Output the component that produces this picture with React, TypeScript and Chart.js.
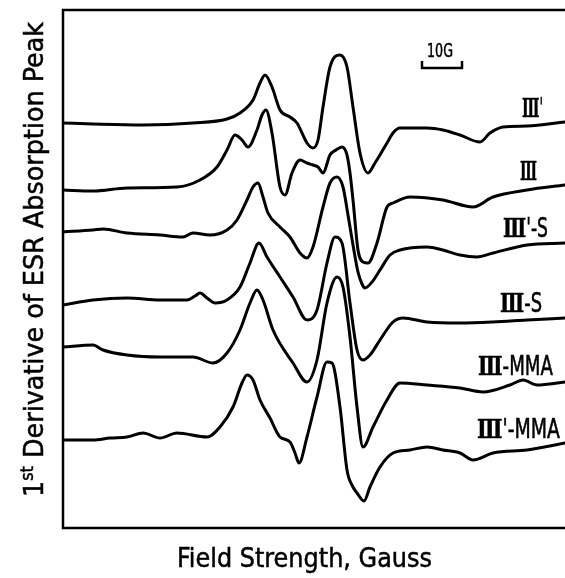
import React, { useEffect, useRef } from 'react';
import { Chart, registerables } from 'chart.js';

Chart.register(...registerables);

// Field strength in Gauss (relative), derivative signal in arbitrary units (stacked offsets included)
const seriesNames = ["Ⅲ'", 'Ⅲ', "Ⅲ'-S", 'Ⅲ-S', 'Ⅲ-MMA', "Ⅲ'-MMA"];

const fieldIIIp = [0, 7.5, 20, 32.5, 41, 44.25, 47.5, 49.25, 50.5, 52.25, 54.25, 56.75, 58.5, 61, 62.5, 63.75, 65, 66.75, 69.25, 71, 72.5, 74.25, 76.25, 78, 81, 82.5, 84.25, 91, 95, 99.25, 104.25, 106.75, 110, 116, 125.5];
const signalIIIp = [405, 404, 403, 405, 409, 415, 428, 445, 453, 441, 418, 411, 405, 385, 380, 388, 421, 461, 473, 461, 421, 375, 355, 365, 385, 395, 400, 400, 398, 393, 386, 395, 401, 402, 406];

const fieldIII = [0, 7.5, 16, 28.5, 34.25, 38.5, 41, 43, 44.75, 46.25, 48.5, 49.75, 50.75, 52.25, 54.25, 55.5, 57.25, 59.25, 61, 62.5, 63.75, 65, 66.75, 68.25, 69.75, 71, 71.75, 72.5, 73.75, 75, 76.25, 78.5, 81, 82.5, 86.75, 95, 102.5, 107.5, 116, 125.5];
const signalIII = [338, 337, 340, 341, 348, 361, 378, 393, 388, 381, 398, 413, 418, 395, 341, 333, 355, 368, 365, 363, 361, 355, 373, 378, 381, 373, 355, 328, 278, 266, 265, 285, 321, 325, 331, 328, 321, 331, 338, 343];

const fieldIIIpS = [0, 7.5, 10, 16, 24.25, 30, 32.5, 36.75, 41, 43.5, 46, 47.5, 48.75, 50, 51.25, 54.25, 56.75, 59.25, 61, 62.5, 65, 66.75, 68.5, 70, 71.25, 72.5, 73.75, 74.75, 75.5, 77.25, 79.25, 81.75, 84.25, 91, 95, 99.25, 103.5, 107.5, 116, 125.5];
const signalIIIpS = [296, 298, 299, 295, 293, 291, 295, 293, 298, 308, 328, 341, 345, 331, 315, 301, 291, 275, 270, 281, 321, 345, 351, 341, 313, 283, 256, 244, 240, 246, 258, 273, 278, 281, 278, 273, 271, 275, 283, 285];

const fieldIIIS = [0, 7.5, 16, 24.25, 31, 33, 34.25, 36, 38, 41, 44.25, 46.75, 49, 51, 54.25, 57.5, 61, 63.5, 66, 68, 69.75, 71.75, 73.5, 75, 76.75, 79.25, 82.5, 85, 91, 99.25, 107.5, 116, 125.5];
const signalIIIS = [223, 228, 230, 228, 228, 232, 235, 230, 225, 228, 241, 265, 285, 271, 251, 231, 208, 218, 265, 291, 285, 225, 178, 168, 173, 188, 206, 210, 206, 205, 206, 208, 210];

const fieldIIIMMA = [0, 7.5, 10, 16, 24.25, 32.5, 37.5, 41, 44.25, 46.75, 48.5, 50, 52.5, 57.5, 61, 63.5, 66, 68.5, 70, 71.75, 73.5, 75, 77.5, 81, 84.25, 91, 99.25, 105, 111.75, 115, 118.5, 125.5];
const signalIIIMMA = [181, 183, 178, 173, 171, 171, 165, 175, 198, 225, 238, 228, 198, 165, 146, 168, 225, 251, 241, 191, 121, 81, 101, 128, 145, 143, 140, 136, 143, 148, 143, 146];

const fieldIIIpMMA = [0, 7.5, 11.75, 16, 20, 24.25, 28.5, 36, 39.25, 42.5, 44.75, 46, 47.5, 49.25, 51.75, 54.25, 56.75, 58, 59, 61, 63.5, 66, 67.25, 69.25, 71, 72.5, 73.5, 75.25, 76.75, 79.25, 82.5, 86.75, 91, 95, 99.25, 102.5, 107.5, 116, 125.5];
const signalIIIpMMA = [88, 88, 90, 91, 95, 90, 95, 91, 101, 121, 145, 153, 148, 128, 110, 91, 86, 75, 65, 91, 131, 166, 165, 121, 58, 41, 35, 27, 41, 61, 75, 78, 81, 78, 75, 68, 75, 78, 85];

// 10 G scale bar
const scaleBarField = [89.75, 89.75, 99.75, 99.75];
const scaleBarSignal = [467, 460, 460, 467];
const scaleBarText = '10G';

const fieldMin = 0;
const fieldMax = 125.5;
const signalMin = 0;
const signalMax = 518;

const xTitle = 'Field Strength, Gauss';
const yTitleParts = ['1', 'st', ' Derivative of ESR Absorption Peak'];

// label boxes: [left G, right G, baseline signal]
const labelBoxes: number[][] = [
  [114.75, 120, 411],
  [114.25, 118.5, 348],
  [110, 121.25, 291],
  [109.25, 119.75, 216],
  [103.75, 122.5, 153],
  [103.5, 124.25, 90],
];
const scaleTextBox = [91, 97.5, 471];

const allFields = [fieldIIIp, fieldIII, fieldIIIpS, fieldIIIS, fieldIIIMMA, fieldIIIpMMA];
const allSignals = [signalIIIp, signalIII, signalIIIpS, signalIIIS, signalIIIMMA, signalIIIpMMA];

type Run = { text: string; font: string; dy?: number };

function drawRuns(ctx: CanvasRenderingContext2D, runs: Run[], x: number, y: number, width: number, angle = 0) {
  ctx.save();
  let total = 0;
  const ws = runs.map((r) => {
    ctx.font = r.font;
    const w = ctx.measureText(r.text).width;
    total += w;
    return w;
  });
  ctx.translate(x, y);
  if (angle) ctx.rotate(angle);
  ctx.scale(width / total, 1);
  ctx.fillStyle = '#000';
  ctx.strokeStyle = '#000';
  ctx.lineWidth = 0.5;
  ctx.textBaseline = 'alphabetic';
  let cx = 0;
  runs.forEach((r, i) => {
    ctx.font = r.font;
    ctx.fillText(r.text, cx, r.dy || 0);
    ctx.strokeText(r.text, cx, r.dy || 0);
    cx += ws[i];
  });
  ctx.restore();
}

const LAT = "'DejaVu Sans Condensed', 'DejaVu Sans', sans-serif";
const ROM = "'DejaVu Serif', 'DejaVu Sans', serif";

function labelRuns(name: string, size: number): Run[] {
  const runs: Run[] = [];
  for (const ch of name) {
    if (ch === 'Ⅲ') runs.push({ text: ch, font: `bold ${size}px ${ROM}` });
    else runs.push({ text: ch, font: `${size}px ${LAT}` });
  }
  return runs;
}

const decoPlugin = {
  id: 'deco',
  afterDraw(chart: any) {
    const { ctx, chartArea: a, scales } = chart;
    const xs = scales.x;
    const ys = scales.y;
    ctx.save();
    ctx.strokeStyle = '#000';
    ctx.lineWidth = 2.5;
    ctx.beginPath();
    ctx.moveTo(a.right, a.top);
    ctx.lineTo(a.left, a.top);
    ctx.lineTo(a.left, a.bottom);
    ctx.lineTo(a.right, a.bottom);
    ctx.stroke();
    ctx.restore();

    seriesNames.forEach((n, i) => {
      const [l, r, b] = labelBoxes[i];
      const px = xs.getPixelForValue(l);
      const pr = xs.getPixelForValue(r);
      drawRuns(ctx, labelRuns(n, 26), px, ys.getPixelForValue(b), pr - px);
    });
    {
      const [l, r, b] = scaleTextBox;
      const px = xs.getPixelForValue(l);
      const pr = xs.getPixelForValue(r);
      drawRuns(ctx, [{ text: scaleBarText, font: `20px ${LAT}` }], px, ys.getPixelForValue(b), pr - px);
    }
    // axis titles
    drawRuns(ctx, [{ text: xTitle, font: `27px ${LAT}` }], 177, 567, 255);
    drawRuns(
      ctx,
      [
        { text: yTitleParts[0], font: `27px ${LAT}` },
        { text: yTitleParts[1], font: `17px ${LAT}`, dy: -10 },
        { text: yTitleParts[2], font: `27px ${LAT}` },
      ],
      43,
      497,
      475,
      -Math.PI / 2
    );
  },
};

export default function App() {
  const ref = useRef<HTMLCanvasElement>(null);
  useEffect(() => {
    if (!ref.current) return;
    const datasets: any[] = allFields.map((f, i) => ({
      label: seriesNames[i],
      data: f.map((v, j) => ({ x: v, y: allSignals[i][j] })),
      borderColor: '#000',
      borderWidth: 3,
      pointRadius: 0,
      fill: false,
      cubicInterpolationMode: 'monotone',
      borderJoinStyle: 'round',
      borderCapStyle: 'round',
    }));
    datasets.push({
      label: 'scale',
      data: scaleBarField.map((v, j) => ({ x: v, y: scaleBarSignal[j] })),
      borderColor: '#000',
      borderWidth: 2.5,
      pointRadius: 0,
      fill: false,
      tension: 0,
    });
    const chart = new Chart(ref.current, {
      type: 'line',
      data: { datasets },
      options: {
        responsive: false,
        animation: false,
        layout: { padding: { left: 63, top: 10, right: 0, bottom: 50 } },
        plugins: { legend: { display: false }, tooltip: { enabled: false }, title: { display: false } },
        scales: {
          x: { type: 'linear', min: fieldMin, max: fieldMax, display: false },
          y: { type: 'linear', min: signalMin, max: signalMax, display: false },
        },
      },
      plugins: [decoPlugin],
    });
    return () => chart.destroy();
  }, []);
  return (
    <div style={{ position: 'absolute', left: 0, top: 0, width: 565, height: 578, background: '#fff' }}>
      <canvas ref={ref} width={565} height={578} />
    </div>
  );
}
